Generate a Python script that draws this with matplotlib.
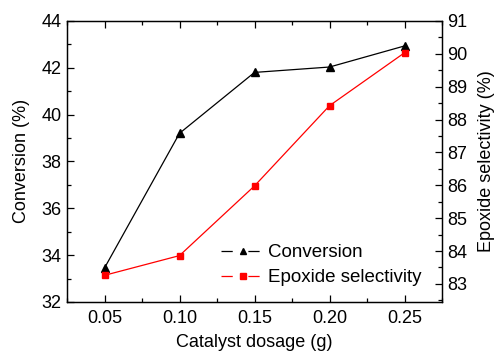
import matplotlib
matplotlib.use("Agg")
import matplotlib.pyplot as plt
from matplotlib.ticker import MultipleLocator
from matplotlib.lines import Line2D
from matplotlib.legend_handler import HandlerTuple

plt.rcParams['font.family'] = ['Liberation Sans', 'DejaVu Sans']

dosage = [0.05, 0.10, 0.15, 0.20, 0.25]
conversion = [33.45, 39.2, 41.8, 42.03, 42.93]
selectivity = [83.26, 83.86, 85.98, 88.42, 90.03]

fig = plt.figure(figsize=(5.0, 3.54), dpi=100)
ax = fig.add_axes([0.134, 0.147, 0.75, 0.794])
ax2 = ax.twinx()

l1, = ax.plot(dosage, conversion, color='black', lw=0.9, marker='^', ms=6)
l2, = ax2.plot(dosage, selectivity, color='red', lw=0.9, marker='s', ms=5)

ax.set_xlim(0.025, 0.275)
ax.set_ylim(32, 44)
ax2.set_ylim(82.45, 91)

ax.set_xticks(dosage)
ax.set_xticklabels(['0.05', '0.10', '0.15', '0.20', '0.25'])
ax.xaxis.set_minor_locator(MultipleLocator(0.025))
ax.yaxis.set_major_locator(MultipleLocator(2))
ax.yaxis.set_minor_locator(MultipleLocator(1))
ax2.yaxis.set_major_locator(MultipleLocator(1))
ax2.yaxis.set_minor_locator(MultipleLocator(0.5))

fs = 13
ax.tick_params(axis='x', which='both', direction='in', top=True, labelsize=fs, pad=6)
ax.tick_params(axis='y', which='both', direction='in', right=False, labelsize=fs, pad=4)
ax.tick_params(which='major', length=5, width=0.9)
ax.tick_params(which='minor', length=3, width=0.9)
ax2.tick_params(axis='y', which='both', direction='in', labelsize=fs, pad=4)
ax2.tick_params(which='major', length=5, width=0.9)
ax2.tick_params(which='minor', length=3, width=0.9)

for a in (ax, ax2):
    for s in a.spines.values():
        s.set_linewidth(0.9)

ax.set_xlabel('Catalyst dosage (g)', fontsize=fs, labelpad=5)
ax.set_ylabel('Conversion (%)', fontsize=fs, labelpad=8)
ax2.set_ylabel('Epoxide selectivity (%)', fontsize=fs, labelpad=7)

dash = (0, (9.0, 12.5))
h1 = (Line2D([], [], color='black', lw=0.9, linestyle=dash),
      Line2D([], [], color='black', lw=0, marker='^', ms=5))
h2 = (Line2D([], [], color='red', lw=0.9, linestyle=dash),
      Line2D([], [], color='red', lw=0, marker='s', ms=4.5))
ax.legend([h1, h2], ['Conversion', 'Epoxide selectivity'], loc='lower right',
          bbox_to_anchor=(0.99, -0.004), frameon=False, fontsize=13.5,
          handlelength=2.3, handletextpad=0.2, labelspacing=0.42,
          handler_map={tuple: HandlerTuple(ndivide=1, pad=0)})

fig.savefig('out.png', dpi=100)
